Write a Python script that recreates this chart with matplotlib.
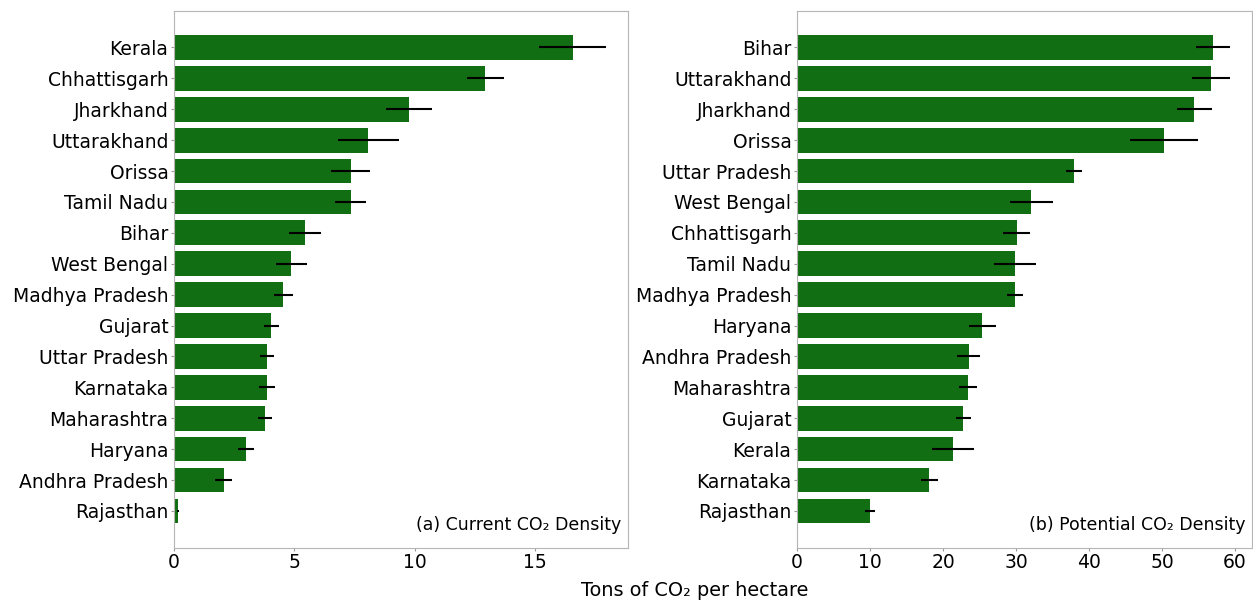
import numpy as np
import matplotlib.pyplot as plt

# current carbon density per state (t CO2 / ha)
cur_states = ['Kerala', 'Chhattisgarh', 'Jharkhand', 'Uttarakhand', 'Orissa',
              'Tamil Nadu', 'Bihar', 'West Bengal', 'Madhya Pradesh', 'Gujarat',
              'Uttar Pradesh', 'Karnataka', 'Maharashtra', 'Haryana',
              'Andhra Pradesh', 'Rajasthan']
cur_vals = [16.55, 12.93, 9.74, 8.06, 7.33, 7.33, 5.45, 4.87, 4.54, 4.04,
            3.87, 3.86, 3.78, 2.99, 2.06, 0.17]
cur_err = [1.40, 0.78, 0.95, 1.27, 0.80, 0.64, 0.66, 0.65, 0.40, 0.31,
           0.30, 0.34, 0.30, 0.35, 0.35, 0.05]

# potential carbon density per state
pot_states = ['Bihar', 'Uttarakhand', 'Jharkhand', 'Orissa', 'Uttar Pradesh',
              'West Bengal', 'Chhattisgarh', 'Tamil Nadu', 'Madhya Pradesh',
              'Haryana', 'Andhra Pradesh', 'Maharashtra', 'Gujarat', 'Kerala',
              'Karnataka', 'Rajasthan']
pot_vals = [57.0, 56.7, 54.4, 50.3, 37.9, 32.1, 30.1, 29.9, 29.9, 25.4,
            23.5, 23.4, 22.8, 21.4, 18.1, 10.0]
pot_err = [2.35, 2.6, 2.4, 4.65, 1.1, 2.9, 1.85, 2.9, 1.07, 1.9,
           1.55, 1.28, 1.08, 2.88, 1.17, 0.66]

green = '#116e12'

fig = plt.figure(figsize=(12.53, 6.01), dpi=100)
ax1 = fig.add_axes([174/1253, 1 - 547.7/601, 454/1253, 537/601])
ax2 = fig.add_axes([797/1253, 1 - 547.7/601, 455/1253, 537/601])

panels = [(ax1, cur_states, cur_vals, cur_err, '(a) Current CO₂ Density'),
          (ax2, pot_states, pot_vals, pot_err, '(b) Potential CO₂ Density')]

for ax, states, vals, err, tag in panels:
    y = np.arange(len(states))
    ax.barh(y, vals, height=0.8, color=green, xerr=err,
            error_kw=dict(ecolor='black', elinewidth=1.5, capsize=0))
    ax.set_yticks(y)
    ax.set_yticklabels(states)
    ax.invert_yaxis()
    ax.tick_params(labelsize=13.5, color='#999999', length=2, pad=2)
    for s in ax.spines.values():
        s.set_color('#b5b5b5')
    ax.text(0.985, 0.025, tag, transform=ax.transAxes, ha='right',
            va='bottom', fontsize=12.5)

ax1.set_xticks([0, 5, 10, 15])
ax2.set_xticks([0, 10, 20, 30, 40, 50, 60])

fig.text(695/1253, 1 - 590/601, 'Tons of CO₂ per hectare', ha='center',
         va='center', fontsize=13.9)

plt.savefig('out.png')
